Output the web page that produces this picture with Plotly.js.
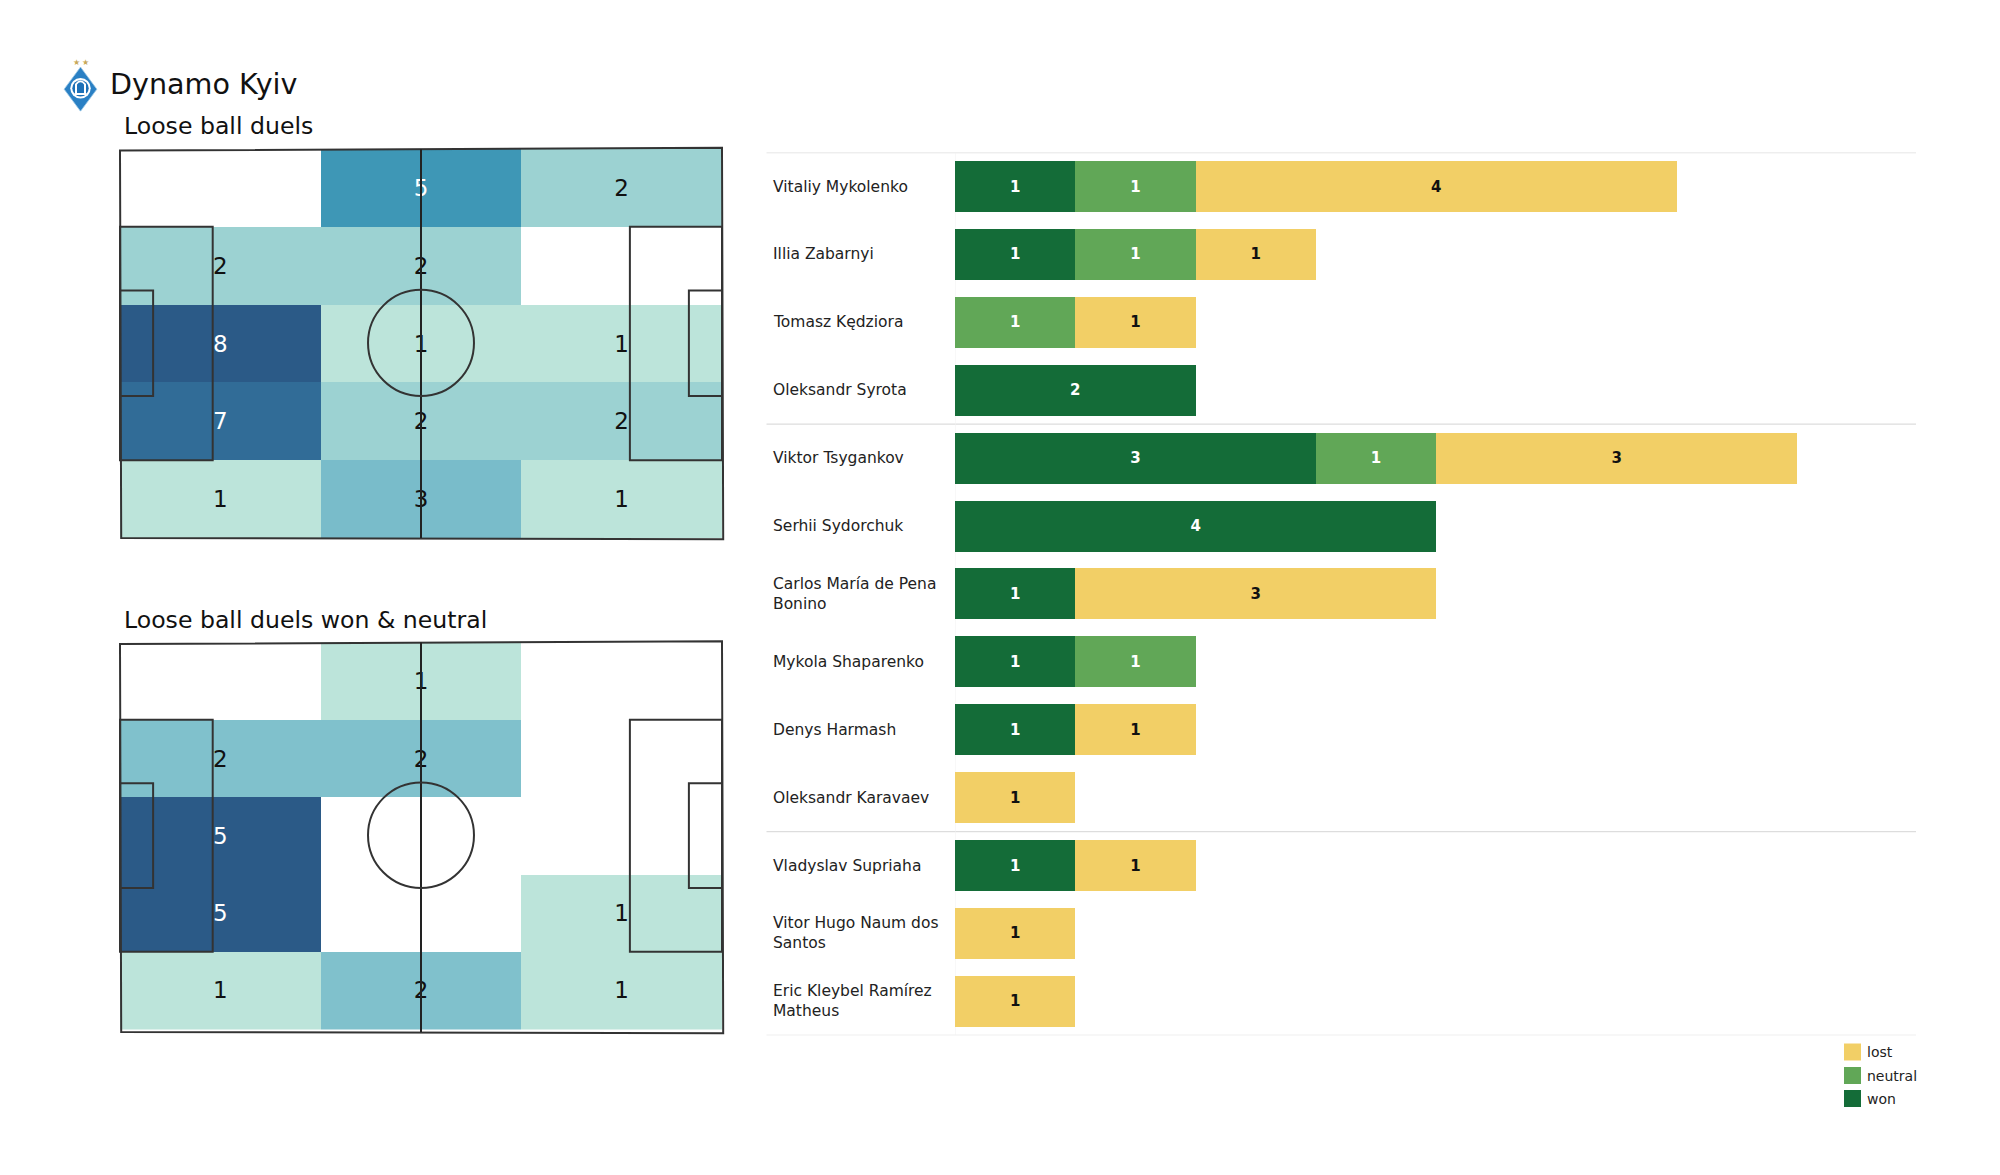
<!DOCTYPE html>
<html><head><meta charset="utf-8">
<script src="https://cdn.plot.ly/plotly-3.0.1.min.js"></script>
<style>html,body{margin:0;padding:0;background:#fff}#c{width:2000px;height:1175px}</style>
</head><body><div id="c"></div>
<script>
const W=2000,H=1175;
const teamName="Dynamo Kyiv";
const pitchTitles=["Loose ball duels","Loose ball duels won & neutral"];
const colCenters=[16.67,50,83.33];
const rowCenters=[10,30,50,70,90];
const duelsAll=[[0,5,2],[2,2,0],[8,1,1],[7,2,2],[1,3,1]];
const duelsWonNeutral=[[0,1,0],[2,2,0],[5,0,0],[5,0,1],[1,2,1]];
const scaleAll=[[0,'#ffffff'],[0.125,'#bce4da'],[0.25,'#9cd2d2'],[0.375,'#79bcca'],[0.625,'#3e97b6'],[0.875,'#316c97'],[1,'#2b5a87']];
const scaleWonNeutral=[[0,'#ffffff'],[0.2,'#bce4da'],[0.4,'#80c1cc'],[1,'#2b5a87']];
const players=["Vitaliy Mykolenko","Illia Zabarnyi","Tomasz Kędziora","Oleksandr Syrota","Viktor Tsygankov","Serhii Sydorchuk","Carlos María de Pena<br>Bonino","Mykola Shaparenko","Denys Harmash","Oleksandr Karavaev","Vladyslav Supriaha","Vitor Hugo Naum dos<br>Santos","Eric Kleybel Ramírez<br>Matheus"];
const won=[1,1,0,2,3,4,1,1,1,0,1,0,0];
const neutral=[1,1,1,0,1,0,0,1,0,0,0,0,0];
const lost=[4,1,1,0,3,0,3,0,1,1,1,1,1];
const legendNames=["lost","neutral","won"];
const cLost='#f2cf66',cNeutral='#61a757',cWon='#146c38';
const font="DejaVu Sans, sans-serif";
const px=v=>v/W, py=v=>1-v/H;

function heat(z,scale,xa,ya){
  const zmax=Math.max(...z.flat());
  const xs=[],ys=[],ts=[],cs=[];
  z.forEach((r,i)=>r.forEach((v,j)=>{if(v>0){xs.push(colCenters[j]);ys.push(rowCenters[i]+0.6);ts.push(String(v));cs.push(v>=5?'#ffffff':'#111111');}}));
  return [
    {type:'heatmap',x:colCenters,y:rowCenters,z:z,zmin:0,zmax:zmax,colorscale:scale,showscale:false,hoverinfo:'skip',xaxis:xa,yaxis:ya,xgap:0,ygap:0},
    {type:'scatter',mode:'text',x:xs,y:ys,text:ts,textposition:'middle center',textfont:{family:font,size:23,color:cs},xaxis:xa,yaxis:ya,showlegend:false,hoverinfo:'skip',cliponaxis:false}
  ];
}
function bar(name,vals,col,tc){
  return {type:'bar',orientation:'h',name:name,y:players,x:vals.map(v=>v||null),text:vals.map(v=>v?String(v):''),
    textposition:'inside',insidetextanchor:'middle',textangle:0,constraintext:'none',
    textfont:{family:font,size:15,color:tc,weight:'bold'},
    marker:{color:col,line:{width:0}},width:0.75,xaxis:'x3',yaxis:'y3',showlegend:false,hoverinfo:'x+y+name'};
}
function pitchShapes(xr,yr,bottom){
  const lc='#333333',lw=2;
  const rect=(x0,x1,y0,y1)=>({type:'rect',xref:xr,yref:yr,x0,x1,y0,y1,line:{color:lc,width:lw},fillcolor:'rgba(0,0,0,0)',layer:'above'});
  return [
    {type:'path',xref:xr,yref:yr,path:`M0,0.4 L100,-0.3 L100.2,${bottom+0.3} L0.2,${bottom} Z`,line:{color:lc,width:lw},fillcolor:'rgba(0,0,0,0)',layer:'above'},
    rect(0,15.4,20,80),rect(84.7,100,20,80),
    rect(0,5.5,36.4,63.5),rect(94.5,100,36.4,63.5),
    {type:'line',xref:xr,yref:yr,x0:50,x1:50,y0:0,y1:bottom,line:{color:'#222',width:lw},layer:'above'},
    {type:'circle',xref:xr,yref:yr,x0:41.2,x1:58.8,y0:36.2,y1:63.5,line:{color:lc,width:lw},fillcolor:'rgba(0,0,0,0)',layer:'above'}
  ];
}
const gridRows=[-0.5,3.5,9.5,12.5];
const gridShapes=gridRows.map(r=>({type:'line',xref:'paper',yref:'y3',x0:px(766.5),x1:px(1916),y0:r,y1:r,line:{color:'#dddddd',width:1.3},layer:'below'}));
gridShapes.push({type:'line',xref:'x3',yref:'y3',x0:0,x1:0,y0:-0.5,y1:12.5,line:{color:'#f2f2f2',width:1},layer:'below'});
const legendColors=[cLost,cNeutral,cWon];
const legendY=[1052,1075.5,1098.5];
const legendShapes=legendColors.map((c,i)=>({type:'rect',xref:'paper',yref:'paper',x0:px(1844),x1:px(1861),y0:py(legendY[i]-8.5),y1:py(legendY[i]+8.5),fillcolor:c,line:{width:0}}));

const ann=[];
pitchTitles.forEach((t,i)=>ann.push({text:t,xref:'paper',yref:'paper',x:px(122),y:py([125.5,620][i]),xanchor:'left',yanchor:'middle',showarrow:false,font:{family:font,size:23.6,color:'#111'}}));
players.forEach(p=>ann.push({text:p,xref:'paper',yref:'y3',x:px(770.5),y:p,xanchor:'left',yanchor:'middle',align:'left',showarrow:false,font:{family:font,size:15.5,color:'#222'}}));
legendNames.forEach((n,i)=>ann.push({text:n,xref:'paper',yref:'paper',x:px(1865),y:py(legendY[i]),xanchor:'left',yanchor:'middle',showarrow:false,font:{family:font,size:14,color:'#222'}}));

const logo='data:image/svg+xml;utf8,'+encodeURIComponent(`<svg xmlns="http://www.w3.org/2000/svg" viewBox="0 0 44 66">
<text x="16.5" y="9" font-size="10" text-anchor="middle" fill="#c8a95a">★</text><text x="27.5" y="9" font-size="10" text-anchor="middle" fill="#c8a95a">★</text>
<path d="M22 12 L42 39 L22 66 L2 39 Z" fill="#2a80c4" stroke="#9cc8e6" stroke-width="1"/>
<circle cx="22" cy="38" r="12.5" fill="#fff"/><circle cx="22" cy="38" r="10" fill="#1d71b8"/>
<path d="M16.5 45 L16.5 33 Q22 26 27.5 33 L27.5 45 M14.5 45 H29.5" fill="none" stroke="#fff" stroke-width="2.4"/></svg>`);

const data=[
  ...heat(duelsAll,scaleAll,'x','y'),
  ...heat(duelsWonNeutral,scaleWonNeutral,'x2','y2'),
  bar('won',won,cWon,'#ffffff'),bar('neutral',neutral,cNeutral,'#ffffff'),bar('lost',lost,cLost,'#111111')
];
const hidden={showgrid:false,zeroline:false,showticklabels:false,ticks:'',showline:false};
/* pitch 0..100 maps to x 120..722 px; margins of the axes leave room for the frame */
const xu=6.02, y1u=3.89, y2u=3.865;
const layout={
  width:W,height:H,margin:{l:0,r:0,t:0,b:0},paper_bgcolor:'#fff',plot_bgcolor:'rgba(0,0,0,0)',
  font:{family:font},showlegend:false,barmode:'stack',bargap:0.25,
  title:{text:teamName,x:px(110),xanchor:'left',y:py(84),yanchor:'middle',xref:'paper',yref:'paper',font:{family:font,size:28.6,color:'#111'}},
  xaxis:{...hidden,domain:[px(120-xu),px(722+2*xu)],range:[-1,102]},
  yaxis:{...hidden,domain:[py(538+2*y1u),py(149-2*y1u)],range:[102,-2]},
  xaxis2:{...hidden,domain:[px(120-xu),px(722+2*xu)],range:[-1,102],anchor:'y2'},
  yaxis2:{...hidden,domain:[py(1029+2*y2u),py(642.5-2*y2u)],range:[102,-2],anchor:'x2'},
  xaxis3:{...hidden,domain:[px(955),px(1916)],range:[0,961/120.3],anchor:'y3'},
  yaxis3:{...hidden,type:'category',categoryorder:'array',categoryarray:players,domain:[py(1035.3),py(152.6)],range:[12.5,-0.5],anchor:'x3'},
  shapes:[...pitchShapes('x','y',100),...pitchShapes('x2','y2',100.8),...gridShapes,...legendShapes],
  annotations:ann,
  images:[{source:logo,xref:'paper',yref:'paper',x:px(62.5),y:py(57),sizex:px(36),sizey:54.5/H,xanchor:'left',yanchor:'top',sizing:'contain',layer:'above'}]
};
Plotly.newPlot('c',data,layout,{displayModeBar:false,responsive:false});
</script></body></html>
